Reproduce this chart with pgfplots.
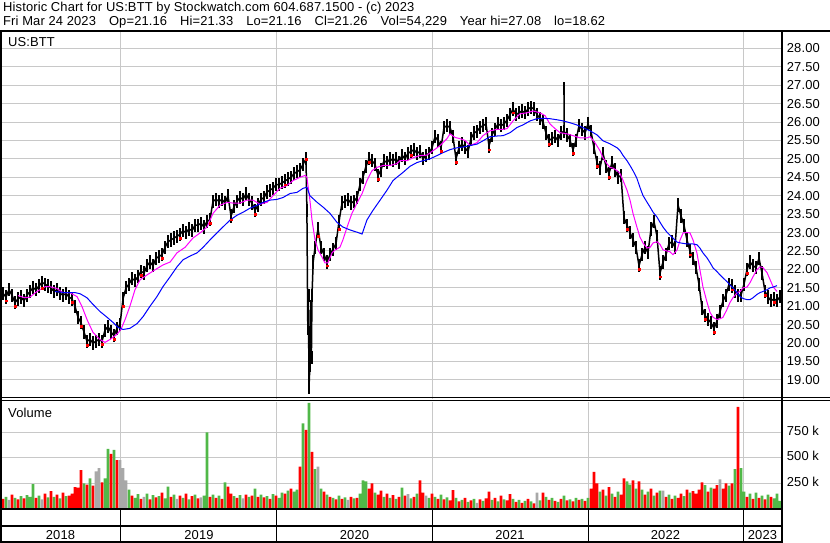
\documentclass[border=0pt]{standalone}
\usepackage{fontspec}
\setmainfont{Liberation Sans}[LetterSpace=1.0]
\usepackage{pgfplots}
\pgfplotsset{compat=1.18}
\definecolor{vgreen}{RGB}{80,184,72}
\definecolor{vgray}{RGB}{168,168,168}
\definecolor{vred}{RGB}{255,0,0}
\definecolor{mamag}{RGB}{255,0,255}
\definecolor{mablue}{RGB}{0,0,255}
\definecolor{gridc}{RGB}{200,200,200}
\pgfplotsset{
  panel/.style={anchor=south west, scale only axis, width=782bp,
    xmin=0, xmax=260.67,
    xtick={40.33,92.33,144,196,247.67}, xticklabels={},
    axis line style={draw=none}, major tick length=0pt,
    major grid style={draw=gridc, line width=1bp},
    tick label style={font=\fontsize{13}{15}\selectfont},
    /pgf/number format/assume math mode=true,
  }
}
\newcommand{\gap}{\hspace{13bp}}
\begin{document}
\fontsize{13}{15}\selectfont
\begin{tikzpicture}[x=1bp,y=1bp]
\path[use as bounding box] (0,0) rectangle (830,543);

% ---------------- price panel ----------------
\begin{axis}[panel, at={(0bp,143.5bp)}, height=368.5bp,
  ymin=18.47, ymax=28.47,
  ytick={19,19.5,20,20.5,21,21.5,22,22.5,23,23.5,24,24.5,25,25.5,26,26.5,27,27.5,28},
  yticklabel pos=right,
  yticklabel style={anchor=west, inner sep=0pt, xshift=4.7bp},
  yticklabel={\pgfmathprintnumber[fixed,fixed zerofill,precision=2]{\tick}},
  grid=major]
\addplot[black, line width=1.5bp, mark=none,
  error bars/.cd, y dir=both, y fixed=0.18, error mark=none,
  error bar style={line width=2.4bp, black}] coordinates {
(0,21.3)(1,21.35)(2,21.25)(3,21.45)(4,21.3)(5,21.1)(6,21.2)(7,21.25)(8,21.15)(9,21.3)
(10,21.4)(11,21.5)(12,21.45)(13,21.55)(14,21.65)(15,21.6)(16,21.55)(17,21.5)(18,21.4)(19,21.45)
(20,21.35)(21,21.3)(22,21.35)(23,21.25)(24,21.2)(25,21.0)(26,20.7)(27,20.55)(28,20.3)(29,20.05)
(30,20.1)(31,20.0)(32,20.05)(33,20.1)(34,20.05)(35,20.35)(36,20.45)(37,20.3)(38,20.2)(39,20.4)
(40,20.5)(41,21.2)(42,21.5)(43,21.6)(44,21.75)(45,21.7)(46,21.8)(47,21.95)(48,21.9)(49,22.1)
(50,22.2)(51,22.1)(52,22.3)(53,22.35)(54,22.4)(55,22.6)(56,22.75)(57,22.8)(58,22.85)(59,22.9)
(60,22.95)(61,23.05)(62,23.0)(63,23.1)(64,23.05)(65,23.2)(66,23.2)(67,23.25)(68,23.15)(69,23.3)
(70,23.35)(71,23.85)(72,23.9)(73,23.85)(74,23.9)(75,23.8)(76,24.0)(77,23.45)(78,23.7)(79,23.85)
(80,23.95)(81,23.9)(82,24.05)(83,23.9)(84,23.8)(85,23.6)(86,23.75)(87,23.9)(88,23.95)(89,24.1)
(90,24.15)(91,24.2)(92,24.3)(93,24.3)(94,24.35)(95,24.4)(96,24.45)(97,24.5)(98,24.6)(99,24.65)
(100,24.7)(101,24.85)(102,25.0)(102.3,23.6)(102.6,20.4)(102.8,21.3)(103,18.8)(103.3,19.4)(103.6,21.0)(103.8,19.6)
(104,21.3)(104.4,22.2)(105,22.6)(106,23.1)(107,22.6)
(108,22.4)(109,22.2)(110,22.4)(111,22.55)(112,22.7)(113,23.3)(114,23.8)(115,23.85)(116,23.9)(117,23.8)
(118,23.85)(119,23.95)(120,24.3)(121,24.5)(122,24.8)(123,25.0)(124,24.95)(125,24.85)(126,24.55)(127,24.7)
(128,24.95)(129,24.9)(130,25.0)(131,24.95)(132,25.0)(133,24.9)(134,25.1)(135,25.0)(136,25.15)(137,25.2)
(138,25.25)(139,25.15)(140,25.2)(141,25.0)(142,25.1)(143,25.15)(144,25.3)(145,25.6)(146,25.5)(147,25.3)
(148,25.85)(149,25.9)(150,25.85)(151,25.6)(152,25.0)(153,25.3)(154,25.4)(155,25.3)(156,25.2)(157,25.55)
(158,25.7)(159,25.75)(160,25.85)(161,25.9)(162,25.95)(163,25.35)(164,25.65)(165,25.8)(166,25.95)(167,25.9)
(168,25.95)(169,26.05)(170,26.2)(171,26.35)(172,26.2)(173,26.25)(174,26.3)(175,26.25)(176,26.35)(177,26.4)
(178,26.35)(179,26.2)(180,26.1)(181,26.0)(182,25.7)(183,25.5)(184,25.55)(185,25.6)(186,25.5)(187,25.7)
(188,25.75)(188,26.9)(188,25.75)(189,25.65)(190,25.5)(191,25.25)(192,25.5)(193,25.9)(194,25.8)(195,25.7)
(196,25.95)(197,25.75)(198,25.3)(199,24.9)(200,24.75)(201,25.15)(202,24.8)(203,24.6)(204,24.9)(205,24.7)
(206,24.5)(207,24.55)(208,23.4)(209,23.2)(210,23.0)(211,22.8)(212,22.6)(213,22.1)(214,22.4)(215,22.6)
(216,22.45)(217,23.1)(218,23.3)(219,22.9)(220,21.9)(221,22.2)(222,22.4)(223,22.7)(224,22.75)(225,22.6)
(226,23.75)(227,23.45)(228,23.2)(229,22.8)(230,22.5)(231,22.3)(232,22.05)(233,21.6)(234,20.95)(235,20.75)
(236,20.65)(237,20.55)(238,20.4)(239,20.6)(240,20.85)(241,21.15)(242,21.3)(243,21.6)(244,21.55)(245,21.4)
(246,21.3)(247,21.3)(248,21.6)(249,22.0)(250,22.2)(251,22.1)(252,22.05)(253,22.3)(254,21.9)(255,21.4)
(256,21.25)(257,21.15)(258,21.2)(259,21.15)(260,21.26)
};
\addplot[only marks, mark=square*, mark size=0.9bp, color=vred] coordinates {
(2,21.15)(5,21.0)(14,21.5)(24,21.1)(27,20.45)(29,19.95)(34,19.98)(38,20.1)(41,21.0)(47,21.85)
(54,22.3)(60,22.85)(70,23.25)(77,23.35)(85,23.5)(95,24.3)(102,25.0)(106,22.9)(109,22.1)(113,23.1)
(123,24.9)(126,24.45)(137,25.1)(147,25.2)(152,24.9)(163,25.25)(171,26.25)(183,25.4)(191,25.15)(199,24.8)
(203,24.5)(209,23.1)(213,22.0)(220,21.8)(230,22.4)(235,20.65)(238,20.3)(244,21.45)(249,21.9)(255,21.3)(258,21.1)
};
\addplot[mamag, line width=1bp, mark=none] coordinates {
(6,21.29)(8.3,21.23)(10,21.25)(12.3,21.4)(15,21.53)(16.7,21.53)(19,21.48)(21,21.37)(23.3,21.37)(25.7,21.26)
(27.3,21.0)(29,20.64)(31,20.29)(33.3,20.1)(35,20.02)(36.7,20.1)(39,20.24)(40.3,20.37)(41.7,20.64)(43.3,21.0)
(45,21.45)(46.7,21.72)(49,21.85)(51.7,21.99)(54.3,22.12)(56.7,22.2)(59,22.45)(61.7,22.6)(64.3,22.85)(66.7,22.99)
(69,23.15)(71,23.52)(73.3,23.74)(75.7,23.82)(77.7,23.8)(80,23.8)(82.3,23.88)(84.3,23.88)(86.7,23.77)(89,23.82)
(91,24.0)(93.3,24.2)(95.7,24.28)(97.7,24.41)(100,24.5)(101.7,24.55)(102.3,24.5)(103.3,23.88)(104,23.34)(105,22.8)
(106,22.53)(107.3,22.34)(108.3,22.18)(109.3,22.18)(110.7,22.45)(111.7,22.53)(113.3,22.6)(114.3,22.8)(115.7,23.15)(117.3,23.52)
(119,23.8)(120.7,24.06)(122.3,24.41)(124,24.68)(125.7,24.77)(127.7,24.82)(130,24.82)(132.3,24.87)(133.3,24.95)(135.7,24.95)
(137.7,25.03)(140,25.09)(142.3,25.1)(144.3,25.22)(146.7,25.36)(149,25.55)(150,25.68)(151.7,25.58)(153.3,25.55)(155,25.5)
(156.7,25.36)(159,25.44)(161,25.63)(163.3,25.76)(165.7,25.8)(167.7,25.8)(169,25.82)(171,26.03)(173.3,26.22)(175.7,26.25)
(177.7,26.3)(180,26.25)(181.7,26.17)(183.3,25.95)(185,25.82)(186.7,25.71)(189,25.68)(191,25.63)(193.3,25.57)(195.7,25.57)
(196.7,25.6)(198.3,25.44)(200,25.22)(201,25.03)(202.3,24.87)(203.3,24.77)(204.3,24.75)(205.7,24.68)(206.7,24.6)(207.7,24.41)
(209,24.15)(210,23.88)(211,23.52)(212.3,23.15)(213.3,22.88)(214.3,22.72)(215.7,22.58)(216.7,22.6)(217.7,22.72)(219,22.75)
(220,22.68)(221,22.53)(222.3,22.5)(223.3,22.48)(224.3,22.4)(225.7,22.53)(226.7,22.8)(227.7,22.99)(229,23.0)(230,22.99)
(231,22.8)(232.3,22.45)(233.3,21.99)(234.3,21.53)(235.7,21.1)(236.7,20.83)(237.7,20.7)(239,20.64)(240,20.66)(241,20.7)
(242.3,20.91)(243.3,21.1)(244.3,21.23)(245.7,21.37)(246.7,21.4)(247.7,21.5)(249,21.52)(250,21.64)(251,21.8)(252.3,21.99)
(253.3,22.07)(254.3,22.05)(255.7,21.91)(256.7,21.72)(257.7,21.53)(259,21.4)
};
\addplot[mablue, line width=1bp, mark=none] coordinates {
(18.3,21.4)(21.7,21.37)(25,21.37)(26.7,21.34)(29,21.23)(31,21.05)(33.3,20.86)(35.7,20.7)(37.7,20.56)(39.3,20.43)
(41,20.37)(43.3,20.4)(45.7,20.53)(47.7,20.72)(50,21.0)(52.3,21.26)(54.3,21.53)(56.7,21.8)(59,22.07)(61,22.26)
(63.3,22.36)(65.7,22.45)(67.7,22.6)(70,22.8)(72.3,22.99)(74.3,23.15)(76.7,23.34)(79,23.47)(81,23.55)(83.3,23.66)
(85.7,23.74)(87.7,23.82)(90,23.88)(92.3,23.9)(94.3,23.95)(96.7,24.06)(99,24.09)(101,24.2)(102.3,24.23)(103.3,24.0)
(105.7,23.82)(107.7,23.69)(110,23.52)(112.3,23.28)(114.3,23.15)(116.7,23.07)(119,23.01)(120.7,22.96)(122.3,23.34)(124.3,23.6)
(126.7,23.88)(129,24.15)(131,24.41)(132.3,24.5)(134.3,24.63)(136.7,24.8)(139,24.9)(141,24.95)(143.3,25.0)(145.7,25.09)
(147.7,25.17)(150,25.25)(152.3,25.3)(154.3,25.32)(156.7,25.36)(159,25.4)(161,25.49)(163.3,25.6)(165.7,25.62)(167.7,25.63)
(170,25.71)(172.3,25.85)(174.3,25.92)(176.7,26.03)(179,26.09)(181,26.1)(183.3,26.09)(185.7,26.06)(187.7,26.03)(190,25.98)
(192.3,25.92)(194.3,25.85)(196.7,25.76)(199,25.65)(201,25.49)(203.3,25.41)(205.7,25.3)(206.7,25.22)(207.7,25.09)(209,24.95)
(210,24.82)(211,24.68)(212.3,24.47)(213.3,24.23)(214.3,24.01)(215.7,23.82)(216.7,23.69)(217.7,23.55)(219,23.42)(220,23.28)
(221,23.15)(222.3,23.01)(223.3,22.93)(224.3,22.85)(225.7,22.74)(226.7,22.72)(229,22.69)(231,22.69)(232.3,22.67)(233.3,22.58)
(234.3,22.45)(235.7,22.31)(236.7,22.18)(237.7,22.04)(239,21.94)(240,21.85)(241,21.77)(242.3,21.67)(243.3,21.58)(244.3,21.5)
(245.7,21.37)(246.7,21.26)(247.7,21.21)(249,21.18)(250,21.18)(251,21.23)(252.3,21.32)(253.3,21.37)(254.3,21.4)(255.7,21.45)
(256.7,21.5)(257.7,21.52)(259,21.56)
};
\end{axis}
\node[anchor=base west, inner sep=0pt] at (8,496) {US:BTT};

% ---------------- volume panel (thousands) ----------------
\begin{axis}[panel, at={(0bp,34bp)}, height=107bp,
  ymin=0, ymax=1049,
  ytick={250,500,750}, yticklabels={250 k,500 k,750 k},
  yticklabel pos=right,
  yticklabel style={anchor=west, inner sep=0pt, xshift=4.7bp, yshift=2bp},
  grid=major]
\addplot[ybar, bar width=0.85, bar shift=0pt, fill=vgreen, draw=none] coordinates {
(0,130)(2,120)(5,110)(7,125)(9,135)(10,120)(11,245)(13,130)(16,115)(18,120)(20,105)(22,125)(28,250)(30,300)
(35,300)(36,590)(38,580)(43,190)(45,110)(46,145)(49,150)(51,135)(53,125)(55,105)(56,220)(58,140)(61,110)(63,95)
(65,140)(68,130)(69,750)(71,140)(73,130)(75,260)(78,125)(80,135)(83,120)(85,200)(87,140)(89,125)(91,145)(93,110)
(94,160)(96,180)(98,170)(99,190)(101,840)(103,1040)(105,390)(107,200)(109,140)(111,110)(113,130)(115,115)(118,105)
(120,150)(121,280)(122,270)(125,160)(128,120)(130,110)(132,100)(134,210)(137,105)(139,150)(143,110)(145,120)(147,140)
(149,115)(152,110)(154,90)(156,70)(158,100)(161,80)(164,90)(166,75)(168,95)(171,100)(173,90)(175,80)(177,75)
(180,85)(182,120)(184,110)(186,70)(188,130)(190,95)(192,110)(194,100)(196,110)(200,170)(202,130)(204,150)(206,170)
(209,270)(210,240)(212,200)(214,190)(216,170)(218,130)(220,180)(223,140)(225,130)(228,125)(230,160)(235,235)(237,210)
(243,230)(245,390)(247,400)(248,170)(250,150)(252,160)(254,130)(256,140)(258,105)(259,150)(260,80)
};
\addplot[ybar, bar width=0.85, bar shift=0pt, fill=vred, draw=none] coordinates {
(1,100)(4,140)(6,95)(8,105)(12,110)(15,150)(17,176)(19,140)(21,160)(23,130)(24,150)(25,215)(26,210)(27,380)
(29,240)(31,230)(34,260)(37,540)(39,480)(44,130)(47,100)(50,95)(52,115)(54,160)(57,120)(60,130)(62,150)(64,125)
(66,105)(70,120)(72,110)(74,100)(76,220)(77,150)(79,110)(82,140)(84,130)(86,120)(88,115)(90,100)(92,130)(95,150)
(97,200)(100,415)(102,775)(104,560)(108,170)(110,120)(112,95)(114,100)(117,120)(119,110)(123,200)(124,250)(126,140)
(127,180)(129,150)(131,135)(133,120)(135,130)(138,120)(140,280)(141,160)(144,150)(146,100)(148,95)(150,85)(151,186)
(153,75)(155,110)(157,85)(160,95)(162,105)(163,170)(165,110)(167,130)(169,85)(170,145)(172,70)(174,60)(176,100)
(178,55)(181,160)(183,90)(185,80)(187,100)(189,85)(191,75)(193,90)(195,80)(197,200)(198,365)(199,250)(201,190)
(203,215)(205,120)(207,140)(208,300)(211,280)(213,270)(215,140)(217,200)(219,160)(222,120)(224,100)(226,110)(227,150)
(229,190)(231,175)(232,150)(233,190)(234,260)(236,170)(238,200)(239,235)(241,200)(242,250)(244,250)(246,1000)(249,120)
(251,100)(253,110)(255,95)(257,120)
};
\addplot[ybar, bar width=0.85, bar shift=0pt, fill=vgray, draw=none] coordinates {
(3,90)(14,95)(32,370)(33,400)(40,480)(41,400)(42,280)(48,120)(59,100)(67,115)(81,105)(106,415)(116,90)
(136,145)(142,130)(159,60)(179,160)(221,180)(240,290)
};
\end{axis}
\node[anchor=base west, inner sep=0pt] at (8,125) {Volume};

% ---------------- year band ----------------
\begin{axis}[panel, at={(0bp,1bp)}, height=32.5bp,
  ymin=0, ymax=1, ytick=\empty,
  xmajorgrids, major grid style={draw=black, line width=1bp}]
\node[anchor=base] at (axis cs:20.17,0.07) {2018};
\node[anchor=base] at (axis cs:66.33,0.07) {2019};
\node[anchor=base] at (axis cs:118.17,0.07) {2020};
\node[anchor=base] at (axis cs:170,0.07) {2021};
\node[anchor=base] at (axis cs:221.83,0.07) {2022};
\node[anchor=base] at (axis cs:254.17,0.07) {2023};
\end{axis}

% ---------------- frame ----------------
\draw[line width=2bp] (0,512) -- (830,512);
\draw[line width=1bp] (0,145.3) -- (830,145.3);
\draw[line width=1bp] (0,142.3) -- (830,142.3);
\draw[line width=2bp] (0,33.5) -- (782,33.5);
\draw[line width=2bp] (0,17) -- (782,17);
\draw[line width=2bp] (0,1) -- (782,1);
\draw[line width=2bp] (782,0) -- (782,512);
\draw[line width=2.5bp] (1,0) -- (1,512);

% ---------------- header ----------------
\node[anchor=base west, inner sep=0pt] at (3,531) {Historic Chart for US:BTT by Stockwatch.com 604.687.1500 - (c) 2023};
\node[anchor=base west, inner sep=0pt] at (3,517) {Fri Mar 24 2023\gap Op=21.16\gap Hi=21.33\gap Lo=21.16\gap Cl=21.26\gap Vol=54,229\gap Year hi=27.08\gap lo=18.62};
\end{tikzpicture}
\end{document}
